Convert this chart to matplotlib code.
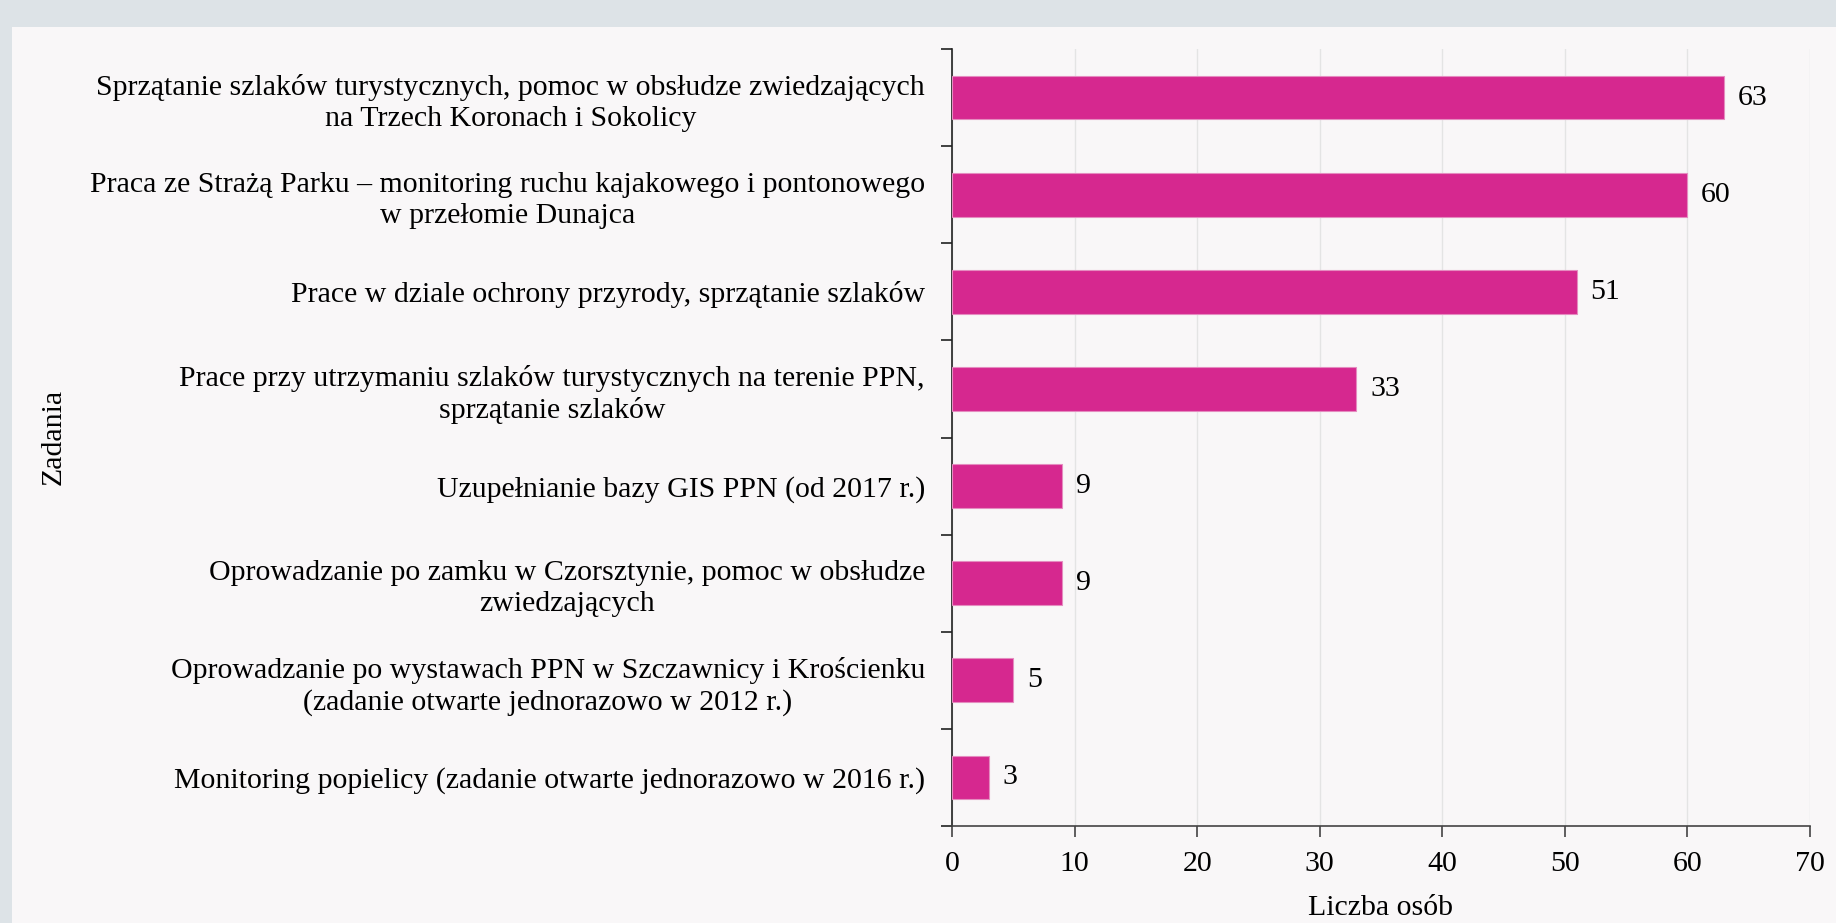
import matplotlib.pyplot as plt
from matplotlib.patches import Rectangle
import numpy as np

# dane
tasks = [
    "Sprzątanie szlaków turystycznych, pomoc w obsłudze zwiedzających\nna Trzech Koronach i Sokolicy",
    "Praca ze Strażą Parku – monitoring ruchu kajakowego i pontonowego\nw przełomie Dunajca",
    "Prace w dziale ochrony przyrody, sprzątanie szlaków",
    "Prace przy utrzymaniu szlaków turystycznych na terenie PPN,\nsprzątanie szlaków",
    "Uzupełnianie bazy GIS PPN (od 2017 r.)",
    "Oprowadzanie po zamku w Czorsztynie, pomoc w obsłudze\nzwiedzających",
    "Oprowadzanie po wystawach PPN w Szczawnicy i Krościenku\n(zadanie otwarte jednorazowo w 2012 r.)",
    "Monitoring popielicy (zadanie otwarte jednorazowo w 2016 r.)",
]
people = [63, 60, 51, 33, 9, 9, 5, 3]
xticks = [0, 10, 20, 30, 40, 50, 60, 70]

plt.rcParams['font.family'] = ['Liberation Serif', 'DejaVu Serif']
fs = 21.5

fig = plt.figure(figsize=(18.36, 9.23), dpi=100)
fig.patch.set_facecolor('#dde3e7')
fig.patches.append(Rectangle((12 / 1836, 0), 1, 1 - 27 / 923, transform=fig.transFigure,
                             facecolor='#f9f7f8', edgecolor='none', zorder=-10))

ax = fig.add_axes([952 / 1836, 1 - 826 / 923, (1810 - 952) / 1836, (826 - 49) / 923])
ax.set_facecolor('none')

y = np.arange(len(tasks))
bars = ax.barh(y, people, height=0.45, color='#d6288f', edgecolor='#e58cc0', linewidth=0.8, zorder=3)
for b, v in zip(bars, people):
    ax.text(v + 1.1, b.get_y() + b.get_height() / 2, str(v), va='center', ha='left', fontsize=fs, zorder=4)

ax.set_ylim(len(tasks) - 0.5, -0.5)
ax.set_xlim(0, 70)
ax.set_xticks(xticks)
ax.set_xticklabels([str(t) for t in xticks], fontsize=fs)
ax.set_yticks(y)
ax.set_yticklabels(tasks, fontsize=fs, multialignment='center', linespacing=1.25)
ax.set_yticks(np.arange(len(tasks) + 1) - 0.5, minor=True)
ax.tick_params(axis='y', which='major', length=0, pad=19.5)
ax.tick_params(axis='y', which='minor', length=8, width=1.2, color='#222222')
ax.tick_params(axis='x', length=8, width=1.2, color='#444444', pad=10)

ax.grid(axis='x', color='#e4e4e4', linewidth=1, zorder=0)
ax.set_axisbelow(True)
for s in ['top', 'right']:
    ax.spines[s].set_visible(False)
ax.spines['left'].set_color('#222222')
ax.spines['left'].set_linewidth(1.2)
ax.spines['bottom'].set_color('#444444')
ax.spines['bottom'].set_linewidth(1.2)

ax.set_xlabel('Liczba osób', fontsize=fs, labelpad=13)
fig.text(54 / 1836, 1 - 437 / 923, 'Zadania', rotation=90, fontsize=fs, va='center', ha='center')

fig.savefig('out.png', dpi=100, facecolor=fig.get_facecolor())
